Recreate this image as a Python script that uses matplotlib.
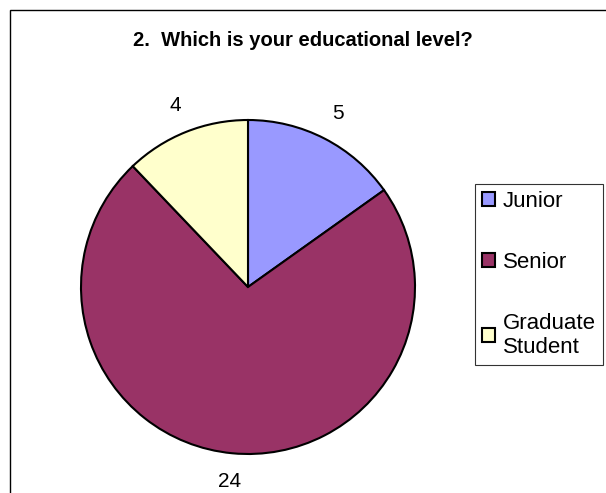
import matplotlib
matplotlib.use("Agg")
import matplotlib.pyplot as plt
from matplotlib.patches import Rectangle

categories = ["Junior", "Senior", "Graduate\nStudent"]
values = [5, 24, 4]
colors = ["#9999FF", "#993366", "#FFFFCC"]
title = "2.  Which is your educational level?"

plt.rcParams['font.family'] = ['Liberation Sans', 'DejaVu Sans']

W, H = 606, 493
fig = plt.figure(figsize=(W / 100, H / 100), dpi=100)

# outer chart frame (cut off at right and bottom)
fig.patches.append(Rectangle((10 / W, -0.1), 1.2, 1 - 10 / H + 0.1, transform=fig.transFigure,
                             fill=False, edgecolor="black", linewidth=1.0))

cx, cy, r = 248, 287, 167
ax = fig.add_axes([(cx - r) / W, (H - cy - r) / H, 2 * r / W, 2 * r / H])
wedges, texts = ax.pie(values, colors=colors, startangle=90, counterclock=False,
                       labels=[str(v) for v in values], labeldistance=1.17,
                       wedgeprops=dict(edgecolor="black", linewidth=1.5),
                       textprops=dict(fontsize=15))
ax.set_xlim(-1, 1)
ax.set_ylim(-1, 1)
ax.set_aspect("equal")
for t in texts:
    t.set_clip_on(False)
    t.set_ha("center")
    t.set_va("center")

fig.text(0.5, 1 - 40 / H, title, ha="center", va="center", fontsize=14.5, fontweight="bold")

leg = fig.legend(wedges, categories, loc="upper left", bbox_to_anchor=(475 / W, 1 - 184 / H),
                 frameon=True, fancybox=False, edgecolor="black", fontsize=16,
                 handlelength=0.6, handleheight=0.6, handletextpad=0.36, labelspacing=1.8,
                 borderpad=0.3, borderaxespad=0)
leg.get_frame().set_linewidth(0.8)

fig.savefig("out.png", dpi=100)
